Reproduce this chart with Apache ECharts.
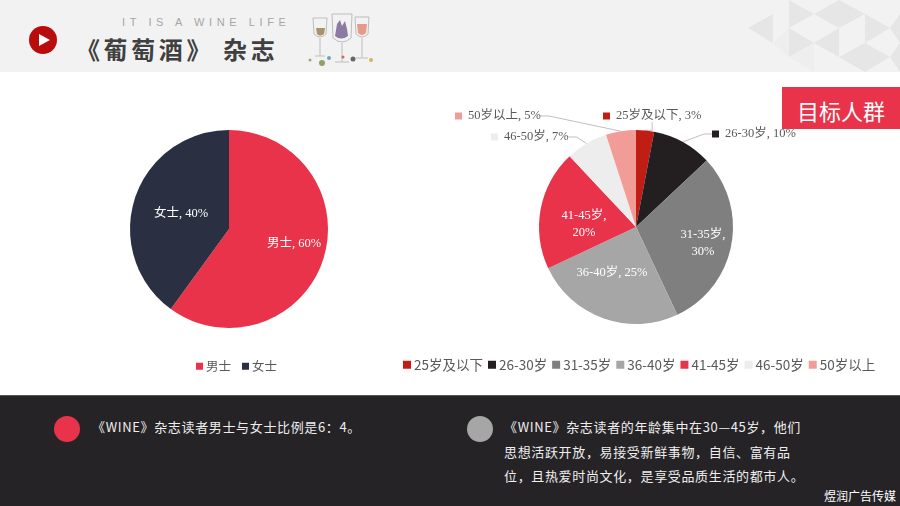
<!DOCTYPE html>
<html>
<head>
<meta charset="UTF-8">
<title>葡萄酒杂志 目标人群</title>
<script src="https://cdn.jsdelivr.net/npm/echarts@6/dist/echarts.min.js"></script>
<style>
  html, body { margin: 0; padding: 0; background: #fff; }
  #page { position: relative; width: 900px; height: 506px; overflow: hidden; font-family: "Noto Sans CJK SC", sans-serif; }
  #page div, #page svg { position: absolute; }
  #header { left: 0; top: 0; width: 900px; height: 72px; background: #f2f2f2; }
  #chart { left: 0; top: 72px; width: 900px; height: 323px; }
  #footer { left: 0; top: 395px; width: 900px; height: 111px; background: #252326; border-top: 1px solid #555; box-sizing: border-box; }
  .sub { left: 122px; top: 16px; font: 11px "Liberation Sans", sans-serif; letter-spacing: 4.6px; color: #a6a6a6; white-space: nowrap; }
  .title { left: 76px; top: 31px; font-size: 24px; line-height: 36px; font-weight: 700; letter-spacing: 3.6px; color: #404040; white-space: nowrap; }
  .tag { left: 782px; top: 87px; width: 118px; height: 42px; line-height: 47px; background: #e8334a; color: #fff; font-size: 22px; text-align: center; }
  .dot { width: 26px; height: 26px; border-radius: 50%; }
  .txt { color: #eee; font-size: 13px; letter-spacing: 0.65px; line-height: 24.5px; white-space: nowrap; }
  .mark { left: 824px; top: 487px; color: #fff; font-size: 12px; white-space: nowrap; }
</style>
</head>
<body>
<div id="page">
  <div id="header"></div>
  <svg style="left:720px;top:0" width="180" height="72">
    <g fill="#e6e6e6">
      <polygon points="28,28 53,14 53,43"/><polygon points="69,0 94,14 69,28"/><polygon points="69,28 94,43 69,57"/>
      <polygon points="94,14 119,0 119,28"/><polygon points="94,43 119,28 119,57"/><polygon points="119,0 145,14 119,28"/>
      <polygon points="145,14 170,28 145,43 "/><polygon points="119,57 145,43 145,72"/><polygon points="145,43 170,57 145,72"/>
      <polygon points="170,28 180,14 180,43"/><polygon points="170,57 180,43 180,72"/>
    </g>
    <g fill="#eeeeee"><polygon points="69,28 53,43 69,57"/><polygon points="94,43 69,57 94,72"/></g>
  </svg>
  <svg style="left:29px;top:26px" width="28" height="28">
    <circle cx="14" cy="14" r="14" fill="#b90c0c"/><polygon points="10,8 21,14 10,20" fill="#fff"/>
  </svg>
  <div class="sub">IT IS A WINE LIFE</div>
  <div class="title">《葡萄酒》 杂志</div>
  <svg style="left:306px;top:10px" width="70" height="56">
    <g fill="none" stroke="#bdbdbd" stroke-width="1">
      <path d="M7,8 h14 l-1,16 q-6,6 -12,0 z"/><path d="M14,28 v18 M9,46 h10"/>
      <path d="M26,4 h20 l-1,24 q-9,8 -18,0 z"/><path d="M36,33 v19 M29,52 h14"/>
      <path d="M49,7 h14 l-1,17 q-6,6 -12,0 z"/><path d="M56,28 v19 M50,48 h12"/>
    </g>
    <path d="M10,18 h9 l-1,6 q-4,3 -7,0 z" fill="#a89468"/>
    <path d="M31,14 l3,-4 l2,6 l3,-5 l2,8 l1,7 q-7,5 -13,0 z" fill="#8d7aa3"/>
    <path d="M51,14 h10 l-1,9 q-4,4 -8,0 z" fill="#e79a8a"/>
    <g><circle cx="4" cy="50" r="1.5" fill="#b5a06a"/><circle cx="23" cy="48" r="2" fill="#6fa3c4"/><circle cx="16" cy="53" r="3" fill="#8fa06a"/><circle cx="47" cy="49" r="2.5" fill="#666"/><circle cx="65" cy="50" r="2" fill="#d8b25c"/><circle cx="37" cy="47" r="1.5" fill="#d26a5c"/></g>
  </svg>
  <div id="chart"></div>
  <div class="tag">目标人群</div>
  <div id="footer"></div>
  <div class="dot" style="left:54px;top:416px;background:#e8334a"></div>
  <div class="dot" style="left:467px;top:416px;background:#a6a6a6"></div>
  <div class="txt" style="left:92px;top:415px">《WINE》杂志读者男士与女士比例是6：4。</div>
  <div class="txt" style="left:504px;top:415px">《WINE》杂志读者的年龄集中在30—45岁，他们<br>思想活跃开放，易接受新鲜事物，自信、富有品<br>位，且热爱时尚文化，是享受品质生活的都市人。</div>
  <div class="mark">煜润广告传媒</div>
</div>

<script>
// gender split
var genderNames = ['男士', '女士'];
var genderValues = [60, 40];
var genderColors = ['#e8334a', '#2a3042'];

// age split
var ageNames = ['25岁及以下', '26-30岁', '31-35岁', '36-40岁', '41-45岁', '46-50岁', '50岁以上'];
var ageValues = [3, 10, 30, 25, 20, 7, 5];
var ageColors = ['#c01d14', '#231f20', '#7f7f7f', '#a6a6a6', '#e8334a', '#ededed', '#f29c97'];

var serif = '"Liberation Serif", "Noto Sans CJK SC", serif';
var legendFont = '"Noto Sans CJK SC", sans-serif';

// label anchors, chart is offset 72px from the top of the page
var genderLabelAt = [[294, 172], [181, 142]];
var ageLabelAt = [
  [603, 44, 'left'], [712, 62, 'left'], [703, 171, 'center'], [612, 201, 'center'],
  [584, 152, 'center'], [491, 65, 'left'], [455, 44, 'left']
];

function ageData() {
  return ageNames.map(function (name, i) {
    var inside = i >= 2 && i <= 4;
    var line = (i === 2 || i === 4) ? '\n' : ' ';
    var rich = {};
    rich['k' + i] = { width: 7, height: 7, backgroundColor: ageColors[i] };
    rich.t = { color: '#595959', fontSize: 12.5, fontFamily: serif, padding: [0, 0, 0, 6] };
    return {
      name: name,
      value: ageValues[i],
      itemStyle: { color: ageColors[i] },
      label: inside ? {
        position: 'inside', color: '#fff', fontSize: 12.5, lineHeight: 17, fontFamily: serif,
        formatter: name + ',' + line + ageValues[i] + '%'
      } : {
        position: 'outside', rich: rich,
        formatter: '{k' + i + '|}{t|' + name + ', ' + ageValues[i] + '%}'
      },
      labelLine: { show: !inside, length: 8, length2: 8, lineStyle: { color: '#bfbfbf', width: 1 } }
    };
  });
}

var chart = echarts.init(document.getElementById('chart'));
chart.setOption({
  animation: false,
  legend: [{
    data: genderNames, left: 191, top: 283, icon: 'rect', itemWidth: 7, itemHeight: 7, itemGap: 11,
    textStyle: { color: '#595959', fontSize: 12.5, fontFamily: legendFont, padding: [0, 0, 0, -2] }
  }, {
    data: ageNames, left: 398, top: 281, icon: 'rect', itemWidth: 8, itemHeight: 8, itemGap: 5,
    textStyle: { color: '#595959', fontSize: 13.5, fontFamily: legendFont, padding: [0, 0, 0, -2] }
  }],
  series: [{
    type: 'pie', center: [229, 157], radius: 99, startAngle: 90, clockwise: true,
    silent: true,
    data: genderNames.map(function (name, i) {
      return { name: name, value: genderValues[i], itemStyle: { color: genderColors[i] } };
    }),
    label: { position: 'inside', color: '#fff', fontSize: 12.5, fontFamily: serif, formatter: '{b}, {c}%' },
    labelLayout: function (p) {
      return { x: genderLabelAt[p.dataIndex][0], y: genderLabelAt[p.dataIndex][1], align: 'center', verticalAlign: 'middle' };
    }
  }, {
    type: 'pie', center: [636, 155], radius: 97, startAngle: 90, clockwise: true,
    silent: true,
    data: ageData(),
    labelLayout: function (p) {
      var a = ageLabelAt[p.dataIndex];
      return { x: a[0], y: a[1], align: a[2], verticalAlign: 'middle' };
    }
  }]
});
</script>
</body>
</html>
